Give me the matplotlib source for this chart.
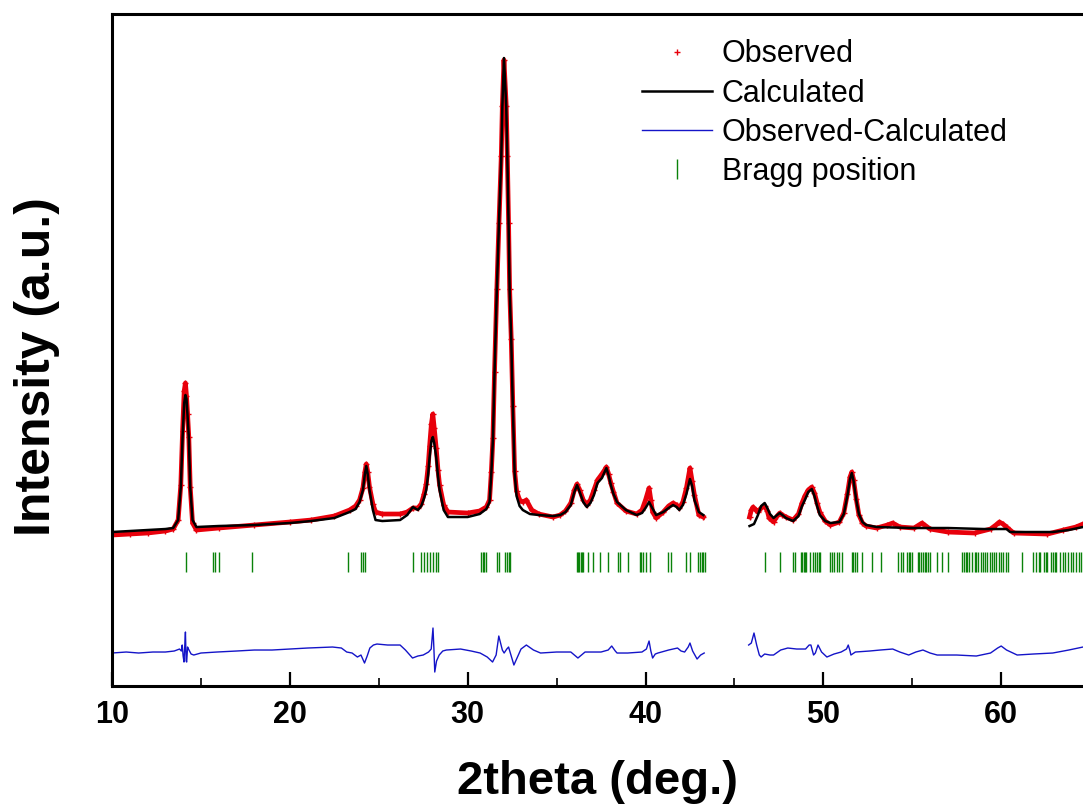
import numpy as np
import matplotlib.pyplot as plt

# observed pattern (two measured ranges, gap between 43.3 and 45.8 deg)
obs_x1 = [10.0, 11.0, 12.0, 13.0, 13.44, 13.72, 13.87, 13.97, 14.06, 14.13, 14.19, 14.25, 14.32, 14.40, 14.53,
          14.75, 16.0, 18.0, 20.0, 21.2, 22.5, 23.36, 23.7, 23.92, 24.11, 24.22, 24.30, 24.38, 24.48, 24.67,
          24.82, 25.2, 26.2, 26.6, 26.92, 27.2, 27.39, 27.55, 27.67, 27.78, 27.86, 27.96, 28.04, 28.12, 28.23,
          28.33, 28.42, 28.65, 28.89, 30.0, 30.67, 31.05, 31.23, 31.33, 31.42, 31.51, 31.64, 31.76, 31.89,
          31.95, 32.04, 32.17, 32.23, 32.30, 32.36, 32.45, 32.54, 32.64, 32.75, 32.92, 33.10, 33.3, 33.6,
          34.0, 34.8, 35.2, 35.5, 35.8, 36.0, 36.15, 36.3, 36.5, 36.7, 36.9, 37.1, 37.3, 37.55, 37.7, 37.8,
          37.92, 38.05, 38.2, 38.4, 38.9, 39.5, 39.8, 40.0, 40.2, 40.3, 40.4, 40.6, 41.0, 41.3, 41.55, 41.75,
          41.9, 42.1, 42.3, 42.5, 42.62, 42.75, 43.0, 43.25]
obs_y1 = [151, 152, 153, 155, 157, 166, 201, 255, 295, 303, 290, 272, 249, 199, 163,
          156, 158, 161, 164, 166, 170, 176, 180, 186, 198, 214, 222, 214, 199, 182,
          174, 172, 172, 174, 178, 178, 182, 192, 202, 220, 240, 262, 272, 258, 238,
          216, 201, 181, 174, 173, 175, 179, 186, 214, 248, 314, 397, 463, 530,
          580, 626, 580, 530, 463, 397, 347, 280, 215, 195, 186, 184, 186, 176,
          172, 169, 171, 175, 183, 196, 202, 196, 186, 181, 186, 196, 206, 212, 216, 219,
          212, 203, 194, 183, 175, 172, 176, 186, 198, 186, 174, 168, 174, 180, 183, 181,
          178, 184, 198, 218, 205, 191, 171, 169]
obs_x2 = [45.85, 45.95, 46.05, 46.2, 46.3, 46.5, 46.7, 46.85, 46.95, 47.2, 47.4, 47.55, 47.7, 47.9, 48.3,
          48.6, 48.8, 48.96, 49.15, 49.35, 49.5, 49.65, 49.8, 50.1, 50.4, 50.9, 51.15, 51.35, 51.5, 51.6,
          51.7, 51.85, 52.0, 52.2, 52.4, 53.0, 53.6, 53.9, 54.3, 55.1, 55.55, 56.0, 57.0, 58.5, 59.4,
          59.7, 59.9, 60.1, 60.3, 60.7, 62.6, 63.5, 64.2, 64.6]
obs_y2 = [169, 176, 179, 176, 174, 178, 180, 175, 168, 164, 170, 173, 171, 169, 166,
          172, 183, 190, 196, 199, 193, 183, 174, 165, 161, 164, 173, 192, 209, 214,
          206, 187, 171, 163, 160, 158, 161, 163, 159, 158, 163, 157, 154, 153, 157,
          161, 164, 162, 159, 153, 152, 156, 159, 162]

# calculated pattern
calc_x1 = [10.0, 11.0, 12.0, 13.0, 13.44, 13.72, 13.87, 13.97, 14.06, 14.13, 14.19, 14.25, 14.32, 14.40, 14.53,
           14.75, 16.0, 18.0, 20.0, 21.2, 22.5, 23.36, 23.7, 23.92, 24.11, 24.22, 24.30, 24.38, 24.48, 24.67,
           24.82, 25.2, 26.2, 26.6, 26.92, 27.2, 27.39, 27.55, 27.67, 27.78, 27.86, 27.96, 28.04, 28.12, 28.23,
           28.33, 28.42, 28.65, 28.89, 30.0, 30.67, 31.05, 31.23, 31.33, 31.42, 31.51, 31.64, 31.76, 31.89,
           31.95, 32.04, 32.17, 32.23, 32.30, 32.36, 32.45, 32.54, 32.64, 32.75, 32.92, 33.10, 33.5, 34.0,
           34.8, 35.2, 35.5, 35.8, 36.0, 36.15, 36.3, 36.5, 36.7, 36.9, 37.1, 37.3, 37.55, 37.7, 37.8,
           37.92, 38.05, 38.2, 38.4, 38.9, 39.5, 39.8, 40.0, 40.2, 40.35, 40.6, 41.0, 41.3, 41.55, 41.75,
           41.9, 42.1, 42.3, 42.5, 42.62, 42.75, 43.0, 43.25]
calc_y1 = [154, 155, 156, 157, 158, 166, 199, 249, 283, 291, 287, 270, 249, 199, 166,
           159, 160, 161, 163, 165, 168, 174, 177, 184, 196, 212, 220, 212, 196, 176,
           166, 165, 166, 171, 179, 176, 180, 188, 196, 212, 229, 245, 249, 243, 229,
           210, 196, 176, 169, 169, 172, 177, 184, 213, 246, 313, 396, 463, 529,
           579, 628, 579, 529, 463, 396, 346, 279, 213, 190, 180, 176, 172, 171,
           170, 171, 174, 181, 194, 201, 194, 184, 179, 183, 191, 203, 208, 214, 218,
           211, 201, 192, 184, 176, 171, 173, 178, 184, 179, 171, 174, 178, 181, 179,
           176, 181, 192, 207, 200, 186, 174, 171]
calc_x2 = [45.85, 46.1, 46.3, 46.5, 46.7, 46.85, 47.0, 47.2, 47.4, 47.55, 47.7, 47.9, 48.3, 48.6, 48.8,
           48.96, 49.15, 49.35, 49.5, 49.65, 49.8, 50.1, 50.4, 50.9, 51.15, 51.35, 51.5, 51.6, 51.7, 51.85,
           52.0, 52.2, 52.4, 53.0, 55.0, 57.0, 59.0, 60.3, 60.5, 62.9, 63.8, 64.6]
calc_y2 = [160, 162, 170, 180, 183, 178, 172, 168, 171, 173, 171, 168, 165, 170, 180,
           186, 194, 197, 190, 180, 171, 165, 163, 164, 172, 190, 207, 213, 205, 186,
           172, 164, 161, 159, 158, 158, 157, 157, 154, 154, 156, 159]

# observed - calculated
diff_x1 = [10.0, 10.8, 11.5, 12.3, 13.0, 13.5, 13.8, 13.9, 13.95, 14.0, 14.05, 14.1, 14.13, 14.17, 14.2,
           14.25, 14.3, 14.45, 14.6, 15.0, 15.9, 17.0, 18.0, 19.0, 20.0, 21.0, 22.4, 22.9, 23.2, 23.5,
           23.8, 24.0, 24.2, 24.35, 24.5, 24.7, 24.9, 25.5, 26.2, 26.5, 26.9, 27.2, 27.5, 27.8, 27.95,
           28.05, 28.1, 28.15, 28.25, 28.4, 28.6, 28.8, 29.6, 30.2, 30.7, 31.1, 31.4, 31.6, 31.75, 31.85,
           31.95, 32.05, 32.2, 32.3, 32.45, 32.6, 32.8, 33.0, 33.3, 33.7, 34.1, 35.0, 35.8, 36.0, 36.2,
           36.4, 36.6, 37.5, 37.9, 38.1, 38.3, 38.4, 39.0, 39.8, 40.05, 40.2, 40.3, 40.4, 40.55, 40.7,
           41.3, 41.8, 42.0, 42.2, 42.4, 42.5, 42.65, 42.9, 43.1, 43.3]
diff_y1 = [0, 1, 0, 1, 1, 2, 4, 2, 8, -3, -9, 10, 21, -8, -9,
           6, 4, -1, -2, 0, 1, 2, 3, 3, 4, 5, 6, 5, 1, 0,
           -4, -2, -10, -3, 5, 8, 9, 8, 8, 3, -5, -3, -2, 1, 4,
           25, 5, -19, -8, -2, 2, 3, 4, 2, 0, -4, -9, -2, 17, 10,
           3, 0, 4, 6, -3, -12, -4, 4, 8, 3, 0, 1, 1, -2, -5,
           -2, 1, 1, 3, 7, 2, 0, 0, 1, 4, 12, 2, -5, -1, 0,
           3, 5, 2, 1, 6, 10, 2, -6, -2, 0]
diff_x2 = [45.8, 45.95, 46.1, 46.25, 46.4, 46.5, 46.7, 47.0, 47.2, 47.6, 48.0, 48.5, 49.0, 49.2, 49.3,
           49.45, 49.55, 49.7, 49.9, 50.2, 50.6, 51.0, 51.3, 51.4, 51.5, 51.55, 51.8, 52.6, 53.2, 53.9,
           54.3, 54.8, 55.2, 55.6, 56.0, 56.4, 57.5, 58.6, 59.4, 59.8, 60.0, 60.3, 60.9, 61.8, 62.9,
           63.8, 64.6]
diff_y2 = [8, 10, 20, 8, -2, -4, -1, -2, -2, 3, 5, 4, 4, 8, 8,
           -2, 0, 8, 1, -4, -1, 1, 4, 8, 2, -2, 1, 2, 3, 4,
           1, -2, 1, 3, 0, -2, -2, -3, 0, 5, 7, 3, -2, -1, 0,
           3, 6]
diff_offset = 33

bragg = [14.15, 15.67, 15.82, 15.99, 17.88, 23.26, 23.98, 24.11, 24.24, 26.9, 27.4, 27.55, 27.7, 27.9,
         28.05, 28.2, 28.35, 30.75, 30.85, 30.94, 31.03, 31.63, 31.76, 32.1, 32.2, 32.3, 32.38, 36.13,
         36.2, 36.27, 36.35, 36.42, 36.5, 36.79, 37.07, 37.42, 37.89, 38.45, 38.54, 39.01, 39.68, 39.77,
         39.86, 40.05, 40.24, 41.28, 41.45, 42.3, 42.48, 42.95, 43.05, 43.15, 43.25, 43.33, 46.73, 47.55,
         48.32, 48.4, 48.75, 48.82, 48.9, 48.97, 49.05, 49.27, 49.4, 49.55, 49.65, 49.75, 49.83, 50.4,
         50.5, 50.6, 50.75, 50.9, 51.05, 51.6, 51.68, 51.78, 51.9, 52.16, 52.72, 53.23, 54.2, 54.35,
         54.5, 54.7, 54.8, 54.9, 55.0, 55.3, 55.4, 55.5, 55.6, 55.7, 55.8, 55.9, 56.0, 56.38, 56.66,
         57.03, 57.8, 57.9, 58.0, 58.1, 58.2, 58.35, 58.5, 58.6, 58.72, 58.85, 58.98, 59.1, 59.22,
         59.35, 59.48, 59.6, 59.72, 59.85, 59.98, 60.1, 60.25, 60.4, 61.17, 61.8, 61.95, 62.1, 62.2,
         62.4, 62.5, 62.6, 62.8, 62.9, 63.0, 63.1, 63.3, 63.45, 63.6, 63.75, 63.9, 64.05, 64.2, 64.35, 64.5]
bragg_level = 124

plt.rcParams['font.family'] = ['Liberation Sans', 'DejaVu Sans']

fig = plt.figure(figsize=(10.83, 8.05), dpi=100)
ax = fig.add_axes([0.1034, 0.1478, 0.8966, 0.8348])

red = '#e8000b'
# observed: thick red band plus point markers
for xs, ys in [(obs_x1, obs_y1), (obs_x2, obs_y2)]:
    ax.plot(xs, ys, color=red, lw=3.4, zorder=2, solid_joinstyle='round')
ax.plot(obs_x1 + obs_x2, obs_y1 + obs_y2, ls='none', marker='+', ms=5, color=red, zorder=2,
        label='Observed')

ax.plot(calc_x1, calc_y1, color='black', lw=1.8, zorder=3, label='Calculated')
ax.plot(calc_x2, calc_y2, color='black', lw=1.8, zorder=3)

ax.plot(diff_x1, np.array(diff_y1) + diff_offset, color='#1414c8', lw=1.0, label='Observed-Calculated')
ax.plot(diff_x2, np.array(diff_y2) + diff_offset, color='#1414c8', lw=1.0)

ax.plot(bragg, [bragg_level] * len(bragg), ls='none', marker='|', ms=15, mew=1.0,
        color='#0a820a', label='Bragg position')

ax.set_xlim(10, 64.6)
ax.set_ylim(0, 672)
ax.set_xticks(np.arange(10, 61, 10))
ax.set_xticks(np.arange(15, 65, 10), minor=True)
ax.set_yticks([])
ax.tick_params(axis='x', which='major', direction='in', length=10, width=1.6, labelsize=22, pad=10)
ax.tick_params(axis='x', which='minor', direction='in', length=6, width=1.2)
for lbl in ax.get_xticklabels():
    lbl.set_fontweight('bold')
for s in ['left', 'bottom', 'top']:
    ax.spines[s].set_linewidth(2.2)
ax.spines['right'].set_visible(False)

ax.set_xlabel('2theta (deg.)', fontsize=34, fontweight='bold', labelpad=22)
ax.set_ylabel('Intensity (a.u.)', fontsize=36, fontweight='bold')
ax.yaxis.set_label_coords(-0.054, 0.475)

leg = ax.legend(loc='upper left', bbox_to_anchor=(0.593, 0.951), bbox_transform=fig.transFigure,
                frameon=False, fontsize=22, handlelength=2.3, handletextpad=0.3,
                labelspacing=0.3, numpoints=1, borderpad=0, borderaxespad=0)

plt.savefig('out.png', dpi=100)
plt.close()
